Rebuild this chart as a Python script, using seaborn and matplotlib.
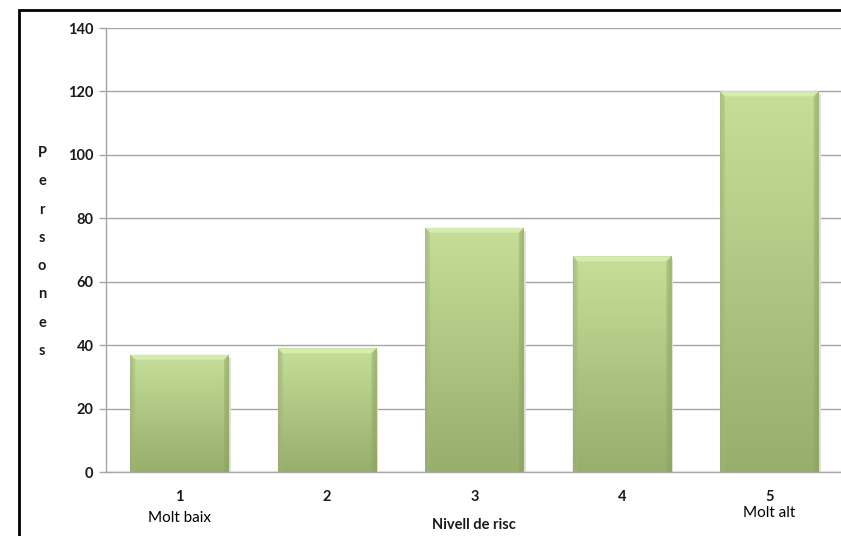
import numpy as np
import pandas as pd
import matplotlib
matplotlib.use("Agg")
import matplotlib.pyplot as plt
from matplotlib.patches import Polygon, Rectangle
from matplotlib.colors import to_rgb
import seaborn as sns

# Risk levels and number of people per level
levels = ["1", "2", "3", "4", "5"]
people = [37, 39, 77, 68, 120]
level_notes = {"1": "Molt baix", "5": "Molt alt"}
y_ticks = [0, 20, 40, 60, 80, 100, 120, 140]

sns.set_theme(style="white")
plt.rcParams["font.family"] = ["Lato", "DejaVu Sans"]

df = pd.DataFrame({"Nivell de risc": levels, "persones": people})

W, H = 841, 536
fig = plt.figure(figsize=(W / 100, H / 100), dpi=100)
ax = fig.add_axes([106 / W, 1 - 472 / H, 737 / W, 444 / H])

sns.barplot(data=df, x="Nivell de risc", y="persones", ax=ax,
            color="#b5cf88", width=0.67, saturation=1, edgecolor="none", zorder=2)

# gradient fill with bevelled top for each bar
top_c = np.array(to_rgb("#c5df98"))
bot_c = np.array(to_rgb("#97ae6c"))
edge_c = np.array(to_rgb("#8a9f62"))
ny, nx = 200, 60
t = np.linspace(0, 1, ny)[:, None, None]          # 0 top -> 1 bottom
vert = top_c * (1 - t) + bot_c * t
u = np.linspace(0, 1, nx)[None, :, None]
side = np.clip(1 - np.minimum(u, 1 - u) / 0.05, 0, 1)  # darken near edges
img = vert * (1 - 0.45 * side) + edge_c * 0.45 * side
img = np.broadcast_to(img, (ny, nx, 3))

px_per_unit_y = 444 / 140
px_per_unit_x = 737 / 5
dy = 5 / px_per_unit_y
dx = 5 / px_per_unit_x
for p in ax.patches:
    x0, w, h = p.get_x(), p.get_width(), p.get_height()
    # soft drop shadow on the right
    ax.add_patch(Rectangle((x0 + w, 0), 2 / px_per_unit_x, h - 0.6 * dy,
                           facecolor="#dedede", edgecolor="none", zorder=1.9))
    im = ax.imshow(img, extent=[x0, x0 + w, 0, h], aspect="auto",
                   zorder=2.1, interpolation="bilinear")
    im.set_clip_path(p)
    ax.add_patch(Polygon([(x0, h), (x0 + w, h), (x0 + w - dx, h - dy), (x0 + dx, h - dy)],
                         closed=True, facecolor="#d6ebb0", edgecolor="none", zorder=2.2))
    ax.add_patch(Polygon([(x0, h), (x0 + dx, h - dy), (x0 + dx, 0), (x0, 0)],
                         closed=True, facecolor="#a9bf7e", edgecolor="none",
                         alpha=0.35, zorder=2.2))
    ax.add_patch(Polygon([(x0 + w, h), (x0 + w - dx, h - dy), (x0 + w - dx, 0), (x0 + w, 0)],
                         closed=True, facecolor="#8ca264", edgecolor="none",
                         alpha=0.35, zorder=2.2))

ax.set_xlim(-0.5, 4.5)
ax.set_ylim(0, 140)
ax.set_yticks(y_ticks)
ax.yaxis.grid(True, color="#a6a6a6", linewidth=1.0, zorder=0)
ax.set_axisbelow(True)

for s in ["top", "right"]:
    ax.spines[s].set_visible(False)
for s in ["left", "bottom"]:
    ax.spines[s].set_color("#a6a6a6")
    ax.spines[s].set_linewidth(1.0)

ax.tick_params(axis="y", direction="out", length=5, width=1, color="#a6a6a6",
               labelsize=10.5, pad=4, left=True)
ax.tick_params(axis="x", length=0, labelsize=10.5, pad=13)
for lab in ax.get_xticklabels() + ax.get_yticklabels():
    lab.set_fontweight("bold")
    lab.set_color("#1a1a1a")

# descriptive notes under the extreme levels
for i, lv in enumerate(levels):
    if lv in level_notes:
        yoff = -46 if lv == "1" else -41
        ax.annotate(level_notes[lv], xy=(i, 0), xycoords="data",
                    xytext=(0, yoff), textcoords="offset pixels",
                    ha="center", va="center", fontsize=11, color="black")

ax.set_xlabel("Nivell de risc", fontsize=10.5, fontweight="bold", color="#1a1a1a")
ax.xaxis.set_label_coords(474 / W, 1 - 525 / H, transform=fig.transFigure)
ax.xaxis.label.set_va("center")

ax.set_ylabel("\n".join("Persones"), rotation=0,
              fontsize=10.5, fontweight="bold", color="#1a1a1a",
              linespacing=2.3, ha="center", va="center")
ax.yaxis.set_label_coords(42 / W, 1 - 252 / H, transform=fig.transFigure)

# chart frame
fig.add_artist(Rectangle((19 / W, -0.1), 1.2, 1 - 10 / H + 0.1,
                         transform=fig.transFigure, fill=False,
                         edgecolor="black", linewidth=2))

fig.savefig("out.png", dpi=100)
